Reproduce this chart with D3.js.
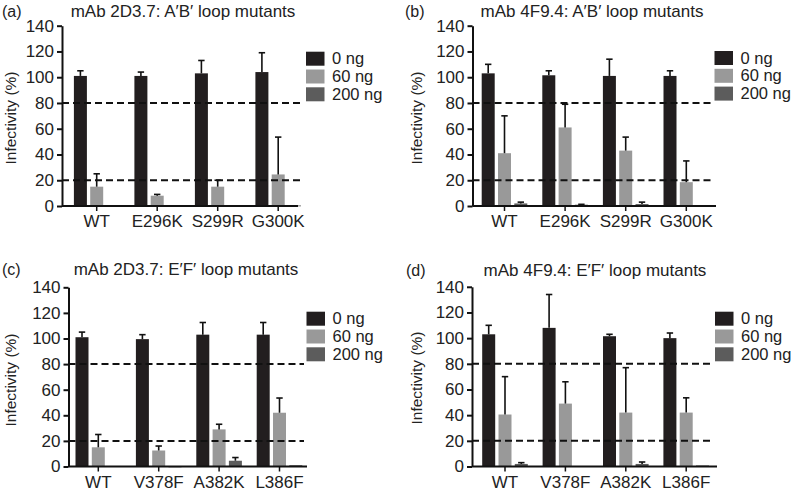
<!DOCTYPE html>
<html>
<head>
<meta charset="utf-8">
<script src="https://cdn.jsdelivr.net/npm/d3@7"></script>
<style>
  html, body { margin: 0; padding: 0; background: #fff; }
  svg { display: block; font-family: "Liberation Sans", Arial, Helvetica, sans-serif; }
</style>
</head>
<body>
<svg id="chart" width="792" height="493"></svg>
<script>
// ---------- data ----------
const doses = ["0 ng", "60 ng", "200 ng"];
const catsAB = ["WT", "E296K", "S299R", "G300K"];
const catsEF = ["WT", "V378F", "A382K", "L386F"];
const yTicks = [0, 20, 40, 60, 80, 100, 120, 140];
const refLines = [20, 80];

// panel (a) mAb 2D3.7, A'B' loop
const a0 = [101, 101, 103, 104];
const a0err = [4, 3, 10, 15];
const a60 = [15, 8, 15, 24.5];
const a60err = [10, 1, 5, 29];
const a200 = [0.3, 0, 0, 0.4];
const a200err = [0, 0, 0, 0];

// panel (b) mAb 4F9.4, A'B' loop
const b0 = [103, 101.5, 101, 101];
const b0err = [7, 3.5, 13, 4];
const b60 = [41, 61, 43, 18.5];
const b60err = [29, 18, 10.5, 16.5];
const b200 = [2, 1, 1.5, 0.3];
const b200err = [1, 0.3, 1.5, 0];

// panel (c) mAb 2D3.7, E'F' loop
const c0 = [101, 99.5, 103, 103];
const c0err = [4, 3.5, 9.5, 9.5];
const c60 = [15, 12.5, 29, 42];
const c60err = [10, 3.5, 4, 11.5];
const c200 = [0.4, 0, 4.5, 1];
const c200err = [0, 0, 2.5, 0];

// panel (d) mAb 4F9.4, E'F' loop
const d0 = [103, 108, 101.5, 100];
const d0err = [7, 26, 1.5, 4];
const d60 = [40.5, 49, 42, 42];
const d60err = [29.5, 17, 35, 11.5];
const d200 = [2, 0.3, 2, 0.8];
const d200err = [1, 0, 1.5, 0];

const colors = ["#221e1f", "#999999", "#5c5c5c"];

// ---------- layout ----------
const panels = [
  { tag: "(a)", title: "mAb 2D3.7: A\u2032B\u2032 loop mutants", cats: catsAB,
    means: [a0, a60, a200], errs: [a0err, a60err, a200err],
    axisX: 62, axisEnd: 298, c0: 96.7, step: 60.5, yBase: 206, yTop: 25.7, dashEnd: 304,
    legX: 306, legY: 51.7, tagX: 2, tagY: 17, titleX: 183, titleY: 17, ylabX: 16, ylabY: 118 },
  { tag: "(b)", title: "mAb 4F9.4: A\u2032B\u2032 loop mutants", cats: catsAB,
    means: [b0, b60, b200], errs: [b0err, b60err, b200err],
    axisX: 472.5, axisEnd: 716, c0: 504.5, step: 60.6, yBase: 206, yTop: 25.7, dashEnd: 713,
    legX: 714.5, legY: 51, tagX: 405, tagY: 17, titleX: 592, titleY: 17, ylabX: 422, ylabY: 118 },
  { tag: "(c)", title: "mAb 2D3.7: E\u2032F\u2032 loop mutants", cats: catsEF,
    means: [c0, c60, c200], errs: [c0err, c60err, c200err],
    axisX: 68.5, axisEnd: 307, c0: 98.3, step: 60.4, yBase: 466.5, yTop: 287.3, dashEnd: 304,
    legX: 306.5, legY: 311.7, tagX: 2, tagY: 275, titleX: 186, titleY: 275, ylabX: 16, ylabY: 380 },
  { tag: "(d)", title: "mAb 4F9.4: E\u2032F\u2032 loop mutants", cats: catsEF,
    means: [d0, d60, d200], errs: [d0err, d60err, d200err],
    axisX: 472, axisEnd: 717, c0: 505, step: 60.4, yBase: 466.5, yTop: 286.8, dashEnd: 712,
    legX: 715, legY: 311.7, tagX: 406, tagY: 276, titleX: 595, titleY: 276, ylabX: 422, ylabY: 378 }
];

const svg = d3.select("#chart");
const barW = 13;
const barOff = 16.3;

panels.forEach(p => {
  const g = svg.append("g");
  const n = p.cats.length;
  const x = d3.scaleBand()
    .domain(p.cats)
    .range([p.c0 - p.step / 2, p.c0 + p.step * (n - 0.5)])
    .padding(0);
  const y = d3.scaleLinear().domain([0, 140]).range([p.yBase, p.yTop]);
  const xc = c => x(c) + x.bandwidth() / 2;

  // bars
  p.means.forEach((series, si) => {
    g.selectAll(null).data(p.cats).enter().append("rect")
      .attr("x", c => xc(c) + (si - 1) * barOff - barW / 2)
      .attr("width", barW)
      .attr("y", (c, i) => y(series[i]))
      .attr("height", (c, i) => Math.max(0.8, y(0) - y(series[i])))
      .attr("fill", colors[si]);
  });

  // error bars (upper only)
  p.means.forEach((series, si) => {
    const errs = p.errs[si];
    p.cats.forEach((c, i) => {
      if (!errs[i]) return;
      const cx = xc(c) + (si - 1) * barOff;
      const top = y(series[i] + errs[i]);
      g.append("line").attr("x1", cx).attr("x2", cx)
        .attr("y1", y(series[i])).attr("y2", top)
        .attr("stroke", "#111").attr("stroke-width", 1.6);
      g.append("line").attr("x1", cx - 3.2).attr("x2", cx + 3.2)
        .attr("y1", top).attr("y2", top)
        .attr("stroke", "#111").attr("stroke-width", 1.6);
    });
  });

  // dashed reference lines
  g.selectAll(null).data(refLines).enter().append("line")
    .attr("x1", p.axisX).attr("x2", p.dashEnd)
    .attr("y1", d => y(d)).attr("y2", d => y(d))
    .attr("stroke", "#111").attr("stroke-width", 2)
    .attr("stroke-dasharray", "7,4");

  // y axis
  const yAxis = g.append("g")
    .attr("transform", `translate(${p.axisX},0)`)
    .call(d3.axisLeft(y).tickValues(yTicks).tickSize(5).tickSizeOuter(0).tickPadding(3));
  yAxis.select(".domain").attr("stroke", "#111").attr("stroke-width", 2);
  yAxis.selectAll(".tick line").attr("stroke", "#111").attr("stroke-width", 2);
  yAxis.selectAll(".tick text").attr("font-size", 17).attr("fill", "#222")
    .attr("font-family", "Liberation Sans, Arial, sans-serif");

  // x axis
  const xAxis = g.append("g")
    .attr("transform", `translate(0,${p.yBase})`)
    .call(d3.axisBottom(x).tickSize(5).tickSizeOuter(0).tickPadding(4));
  xAxis.select(".domain").attr("d", `M${p.axisX},0H${p.axisEnd}`)
    .attr("stroke", "#111").attr("stroke-width", 2);
  xAxis.selectAll(".tick line").attr("stroke", "#111").attr("stroke-width", 1.5);
  xAxis.selectAll(".tick text").attr("font-size", 17).attr("fill", "#222")
    .attr("font-family", "Liberation Sans, Arial, sans-serif");

  // y label
  g.append("text")
    .attr("transform", `translate(${p.ylabX},${p.ylabY}) rotate(-90)`)
    .attr("text-anchor", "middle")
    .attr("font-size", 15.5).attr("fill", "#222")
    .text("Infectivity (%)");

  // panel tag and title
  g.append("text").attr("x", p.tagX).attr("y", p.tagY)
    .attr("font-size", 16).attr("fill", "#222").text(p.tag);
  g.append("text").attr("x", p.titleX).attr("y", p.titleY)
    .attr("text-anchor", "middle").attr("font-size", 17).attr("fill", "#222").text(p.title);

  // legend
  const leg = g.append("g");
  doses.forEach((d, i) => {
    leg.append("rect").attr("x", p.legX).attr("y", p.legY + i * 17.8)
      .attr("width", 18.5).attr("height", 14).attr("fill", colors[i]);
    leg.append("text").attr("x", p.legX + 26).attr("y", p.legY + i * 17.8 + 12.5)
      .attr("font-size", 16.5).attr("fill", "#222").text(d);
  });
});
</script>
</body>
</html>
